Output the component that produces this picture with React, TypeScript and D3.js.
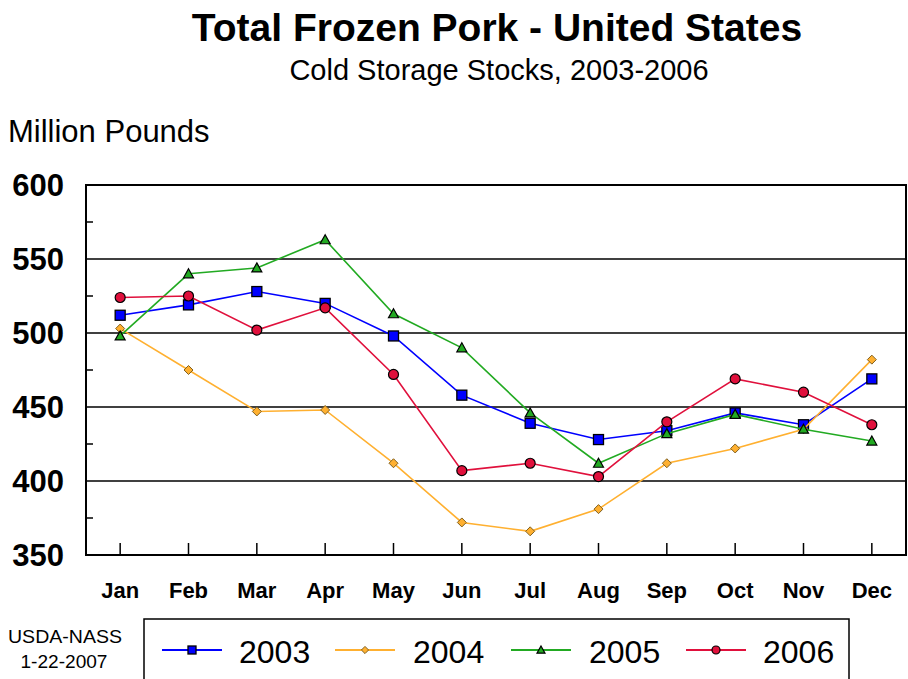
import React from "react";
import * as d3 from "d3";

const months = ["Jan","Feb","Mar","Apr","May","Jun","Jul","Aug","Sep","Oct","Nov","Dec"];
const s2003 = [512, 519, 528, 520, 498, 458, 439, 428, 434, 446, 438, 469];
const s2004 = [503, 475, 447, 448, 412, 372, 366, 381, 412, 422, 435, 482];
const s2005 = [498, 540, 544, 563, 513, 490, 446, 412, 432, 445, 435, 427];
const s2006 = [524, 525, 502, 517, 472, 407, 412, 403, 440, 469, 460, 438];
const yTicks = [350, 400, 450, 500, 550, 600];
const gridValues = [400, 450, 500, 550];
const minorTicks = [375, 425, 475, 525, 575];

const W = 908, H = 679;
const L = 86, R = 906, T = 185, B = 555;
const font = "'Liberation Sans', Arial, sans-serif";

export default function App() {
  const x = d3.scalePoint<string>().domain(months).range([L, R]).padding(0.5);
  const y = d3.scaleLinear().domain([350, 600]).range([B, T]);
  const line = d3.line<number>().x((_, i) => x(months[i])!).y(d => y(d));

  const series = [
    { name: "2003", data: s2003, color: "#0000ff", marker: "square" },
    { name: "2004", data: s2004, color: "#ffb030", marker: "diamond" },
    { name: "2005", data: s2005, color: "#22aa22", marker: "triangle" },
    { name: "2006", data: s2006, color: "#e0103c", marker: "circle" },
  ];

  const marker = (m: string, cx: number, cy: number, color: string, key: any, scale = 1) => {
    if (m === "square") {
      const s = 10 * scale;
      return <rect key={key} x={cx - s / 2} y={cy - s / 2} width={s} height={s} fill={color} stroke="#000" strokeWidth={1.3} />;
    }
    if (m === "diamond") {
      const s = 4.5 * scale;
      return <path key={key} d={`M${cx},${cy - s}L${cx + s},${cy}L${cx},${cy + s}L${cx - s},${cy}Z`} fill={color} stroke="#806020" strokeWidth={1} />;
    }
    if (m === "triangle") {
      const s = 5 * scale;
      return <path key={key} d={`M${cx},${cy - s}L${cx + s},${cy + s * 0.8}L${cx - s},${cy + s * 0.8}Z`} fill={color} stroke="#000" strokeWidth={1.2} />;
    }
    return <circle key={key} cx={cx} cy={cy} r={5 * scale} fill={color} stroke="#000" strokeWidth={1.2} />;
  };

  const legendItems = [
    { lx: 162, tx: 239 },
    { lx: 335, tx: 413 },
    { lx: 511, tx: 589 },
    { lx: 686, tx: 763 },
  ];

  return (
    <svg width={W} height={H} style={{ position: "absolute", left: 0, top: 0, background: "#fff" }} fontFamily={font}>
      <rect x={0} y={0} width={W} height={H} fill="#fff" />
      <text x={497} y={41} textAnchor="middle" fontSize={39} fontWeight="bold">Total Frozen Pork - United States</text>
      <text x={499} y={80} textAnchor="middle" fontSize={29}>Cold Storage Stocks, 2003-2006</text>
      <text x={8} y={142} fontSize={31}>Million Pounds</text>

      {gridValues.map(v => (
        <line key={v} x1={L} x2={R} y1={y(v)} y2={y(v)} stroke="#000" strokeWidth={1.6} />
      ))}
      <rect x={L} y={T} width={R - L} height={B - T} fill="none" stroke="#000" strokeWidth={2} />
      {minorTicks.map(v => (
        <line key={v} x1={L} x2={L + 7} y1={y(v)} y2={y(v)} stroke="#000" strokeWidth={1.5} />
      ))}
      {months.map(m => (
        <line key={m} x1={x(m)} x2={x(m)} y1={B} y2={B - 12} stroke="#000" strokeWidth={1.5} />
      ))}
      {yTicks.map(v => (
        <text key={v} x={64} y={y(v) + 11} textAnchor="end" fontSize={31} fontWeight="bold">{v}</text>
      ))}
      {months.map(m => (
        <text key={m} x={x(m)} y={598} textAnchor="middle" fontSize={22} fontWeight="bold">{m}</text>
      ))}

      {series.map(s => (
        <g key={s.name}>
          <path d={line(s.data)!} fill="none" stroke={s.color} strokeWidth={1.6} />
          {s.data.map((d, i) => marker(s.marker, x(months[i])!, y(d), s.color, i))}
        </g>
      ))}

      <text x={65} y={643} textAnchor="middle" fontSize={18} textLength={114} lengthAdjust="spacingAndGlyphs">USDA-NASS</text>
      <text x={64} y={668} textAnchor="middle" fontSize={18} textLength={87} lengthAdjust="spacingAndGlyphs">1-22-2007</text>

      <rect x={144} y={619} width={705} height={70} fill="#fff" stroke="#000" strokeWidth={1.5} />
      {series.map((s, i) => {
        const it = legendItems[i];
        return (
          <g key={s.name}>
            <line x1={it.lx} x2={it.lx + 60} y1={650} y2={650} stroke={s.color} strokeWidth={2} />
            {marker(s.marker, it.lx + 30, 650, s.color, "m", 0.8)}
            <text x={it.tx} y={663} fontSize={32}>{s.name}</text>
          </g>
        );
      })}
    </svg>
  );
}
